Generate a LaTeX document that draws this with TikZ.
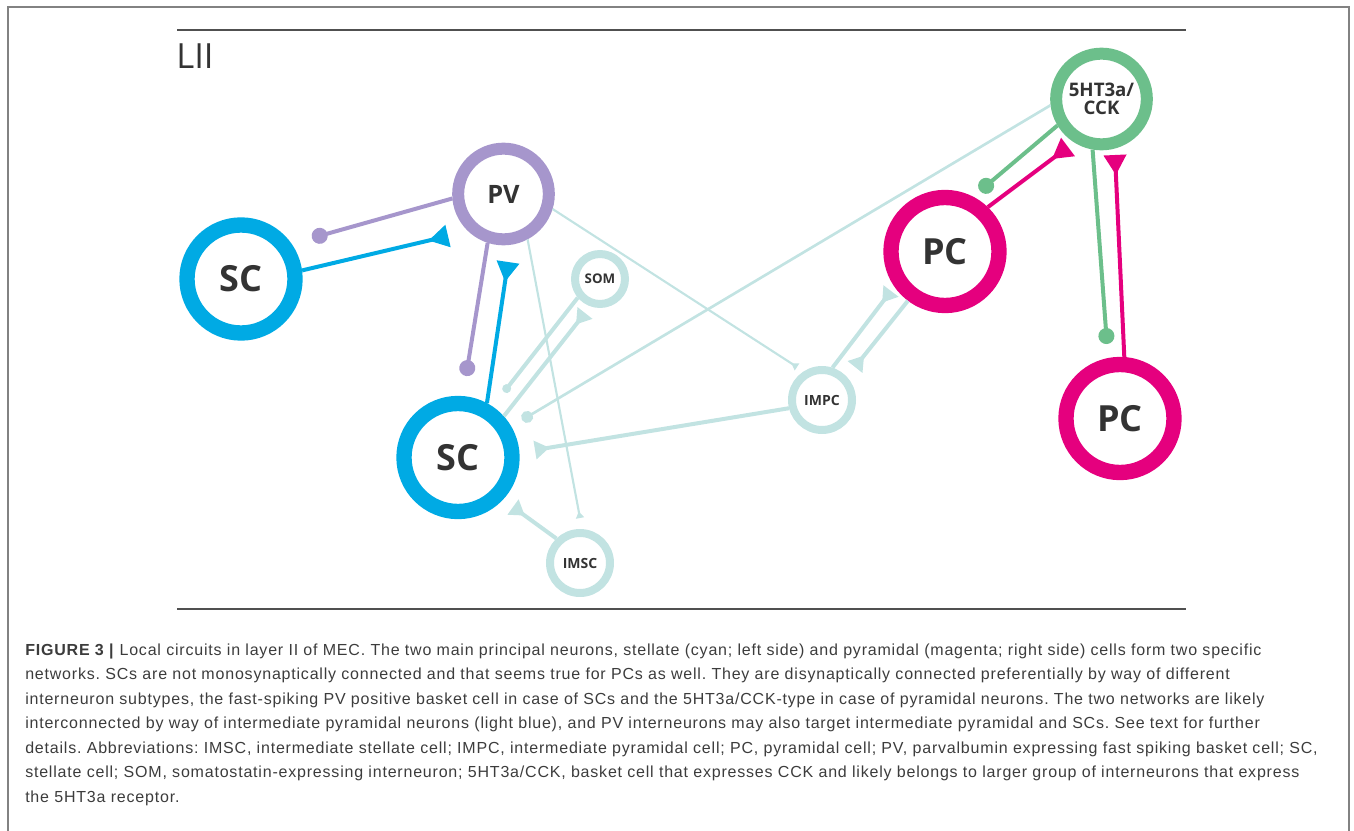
\documentclass[tikz,border=0pt]{standalone}
\usepackage{fontspec}
\setmainfont{Liberation Sans}[LetterSpace=5]
\newfontfamily\cellfont{Open Sans}
\usetikzlibrary{arrows.meta}
\definecolor{scblue}{RGB}{0,170,228}
\definecolor{pvlila}{RGB}{166,150,204}
\definecolor{imteal}{RGB}{194,227,226}
\definecolor{cckgreen}{RGB}{108,191,139}
\definecolor{pcpink}{RGB}{229,0,126}
\definecolor{inkgray}{RGB}{51,51,51}
\definecolor{capgray}{RGB}{60,60,60}
\definecolor{rulegray}{RGB}{80,80,80}
\definecolor{framegray}{RGB}{130,130,130}
\tikzset{
	bigcell/.style={circle, draw=#1, fill=white, line width=11.5pt, minimum size=81pt,
			inner sep=0pt, text=inkgray, font=\cellfont\bfseries\fontsize{27}{27}\selectfont},
	midcell/.style={circle, draw=#1, fill=white, line width=9pt, minimum size=68pt,
			inner sep=0pt, text=inkgray, font=\cellfont\bfseries\fontsize{19}{19}\selectfont},
	smallcell/.style={circle, draw=imteal, fill=white, line width=6pt, minimum size=45pt,
			inner sep=0pt, text=inkgray, font=\cellfont\bfseries\fontsize{10.5}{10.5}\selectfont},
	axon/.style={draw=#1, line width=3pt},
	thinaxon/.style={draw=imteal, line width=1.6pt},
	excite/.style={-{Triangle[reversed, length=15pt, width=16.5pt]}},
	tealexcite/.style={-{Triangle[reversed, length=11pt, width=13.5pt]}},
	tinyexcite/.style={-{Triangle[reversed, length=5pt, width=6pt]}},
	inhib/.style={-{Circle[length=12pt]}},
	tealinhib/.style={-{Circle[length=#1]}},
	captext/.style={anchor=base west, inner sep=0pt, text=capgray, font=\fontsize{12}{14}\selectfont}
}
\frenchspacing

\begin{document}
\begin{tikzpicture}[x=0.75pt,y=-0.75pt]
	\useasboundingbox (0,0) rectangle (1354,831);
	\draw[framegray, line width=1.2pt] (8,831) -- (8,7) -- (1349,7) -- (1349,831);
	\draw[rulegray, line width=2pt] (177,30) -- (1186,30);
	\draw[rulegray, line width=1.8pt] (177,609) -- (1186,609);
	\node[anchor=north west, inner sep=0pt, text=inkgray, font=\cellfont\fontsize{26}{26}\selectfont] (layer) at (176,43) {LII};

	% cells
	\node[bigcell=scblue] (scl) at (241,279) {SC};
	\node[midcell=pvlila] (pv) at (503.5,194) {PV};
	\node[smallcell, minimum size=37.5pt, font=\cellfont\bfseries\fontsize{10}{10}\selectfont] (som) at (600,279) {SOM};
	\node[bigcell=scblue] (sc) at (458,457.5) {SC};
	\node[smallcell] (impc) at (822,400) {IMPC};
	\node[smallcell] (imsc) at (580,563) {IMSC};
	\node[bigcell=pcpink] (pcu) at (945,251.5) {PC};
	\node[midcell=cckgreen, align=center, font=\cellfont\bfseries\fontsize{14}{13.5}\selectfont] (cck) at (1101.5,99) {5HT3a/\\CCK};
	\node[bigcell=pcpink] (pcl) at (1120,418.5) {PC};

	% free ends of the axons
	\coordinate (pvend1) at (312,238);
	\coordinate (sclend) at (448,236);
	\coordinate (pvend2) at (466,376);
	\coordinate (scend1) at (508,262);
	\coordinate (pvend3) at (797,367);
	\coordinate (pvend4) at (580,518);
	\coordinate (somend) at (504,392);
	\coordinate (scend2) at (585,313);
	\coordinate (cckend1) at (522,420);
	\coordinate (impcend1) at (535,450);
	\coordinate (imscend) at (513,507);
	\coordinate (impcend2) at (891,291);
	\coordinate (pcuend1) at (855,367);
	\coordinate (cckend2) at (980,191);
	\coordinate (pcuend2) at (1068,147);
	\coordinate (cckend3) at (1107,344);
	\coordinate (pclend) at (1115,155);

	% stellate side
	\draw[axon=pvlila, inhib] (pv.185) -- (pvend1);
	\draw[axon=scblue, excite] (scl.8) -- (sclend);
	\draw[axon=pvlila, inhib] (pv.252) -- (pvend2);
	\draw[axon=scblue, excite] (sc.62) -- (scend1);

	% intermediate cells
	\draw[thinaxon, tinyexcite] (pv.-17) -- (pvend3);
	\draw[thinaxon, tinyexcite] (pv.-62) -- (pvend4);
	\draw[axon=imteal, tealinhib=6.5pt] (som.220) -- (somend);
	\draw[axon=imteal, tealexcite] (sc.42) -- (scend2);
	\draw[thinaxon, line width=2pt, tealinhib=9pt] (cck.187) -- (cckend1);
	\draw[axon=imteal, tealexcite] (impc.194) -- (impcend1);
	\draw[axon=imteal, tealexcite] (imsc.134) -- (imscend);
	\draw[axon=imteal, tealexcite] (impc.72) -- (impcend2);
	\draw[axon=imteal, tealexcite] (pcu.233) -- (pcuend1);

	% pyramidal side
	\draw[axon=cckgreen, inhib] (cck.211) -- (cckend2);
	\draw[axon=pcpink, excite] (pcu.46) -- (pcuend2);
	\draw[axon=cckgreen, inhib] (cck.260) -- (cckend3);
	\draw[axon=pcpink, excite] (pcl.86) -- (pclend);

	% caption
	\foreach \txt [count=\i] in {
			{\textbf{FIGURE 3 |} Local circuits in layer II of MEC. The two main principal neurons, stellate (cyan; left side) and pyramidal (magenta; right side) cells form two specific},
			{networks. SCs are not monosynaptically connected and that seems true for PCs as well. They are disynaptically connected preferentially by way of different},
			{interneuron subtypes, the fast-spiking PV positive basket cell in case of SCs and the 5HT3a/CCK-type in case of pyramidal neurons. The two networks are likely},
			{interconnected by way of intermediate pyramidal neurons (light blue), and PV interneurons may also target intermediate pyramidal and SCs. See text for further},
			{details. Abbreviations: IMSC, intermediate stellate cell; IMPC, intermediate pyramidal cell; PC, pyramidal cell; PV, parvalbumin expressing fast spiking basket cell; SC,},
			{stellate cell; SOM, somatostatin-expressing interneuron; 5HT3a/CCK, basket cell that expresses CCK and likely belongs to larger group of interneurons that express},
			{the 5HT3a receptor.}}
		\node[captext] (cap\i) at (25,{655+24.5*(\i-1)}) {\txt};
\end{tikzpicture}
\end{document}
